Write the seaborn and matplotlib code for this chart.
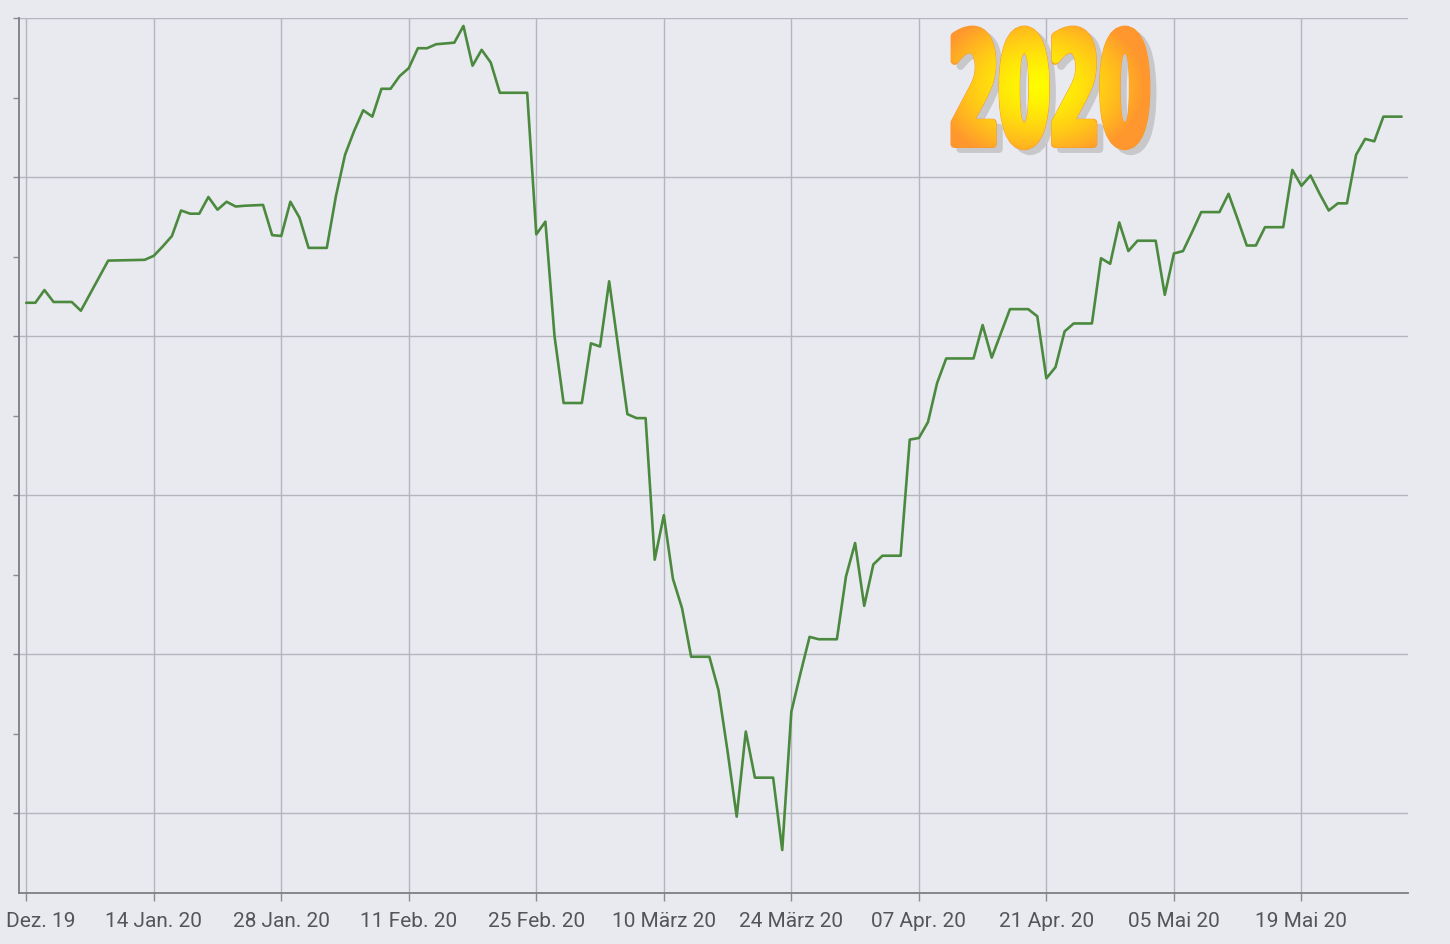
import numpy as np
import pandas as pd
import matplotlib
matplotlib.use('Agg')
import matplotlib.pyplot as plt
import seaborn as sns
from matplotlib import patheffects
from matplotlib.transforms import Affine2D, TransformedPath, ScaledTranslation

# values (index units: one unit = one y tick step)
dates = [
    '2019-12-31', '2020-01-01', '2020-01-02', '2020-01-03', '2020-01-05', '2020-01-06',
    '2020-01-09', '2020-01-13', '2020-01-14', '2020-01-15', '2020-01-16', '2020-01-17',
    '2020-01-18', '2020-01-19', '2020-01-20', '2020-01-21', '2020-01-22', '2020-01-23',
    '2020-01-24', '2020-01-26', '2020-01-27', '2020-01-28', '2020-01-29', '2020-01-30',
    '2020-01-31', '2020-02-02', '2020-02-03', '2020-02-04', '2020-02-05', '2020-02-06',
    '2020-02-07', '2020-02-08', '2020-02-09', '2020-02-10', '2020-02-11', '2020-02-12',
    '2020-02-13', '2020-02-14', '2020-02-16', '2020-02-17', '2020-02-18', '2020-02-19',
    '2020-02-20', '2020-02-21', '2020-02-24', '2020-02-25', '2020-02-26', '2020-02-27',
    '2020-02-28', '2020-03-01', '2020-03-02', '2020-03-03', '2020-03-04', '2020-03-06',
    '2020-03-07', '2020-03-08', '2020-03-09', '2020-03-10', '2020-03-11', '2020-03-12',
    '2020-03-13', '2020-03-15', '2020-03-16', '2020-03-17', '2020-03-18', '2020-03-19',
    '2020-03-20', '2020-03-22', '2020-03-23', '2020-03-24', '2020-03-25', '2020-03-26',
    '2020-03-27', '2020-03-29', '2020-03-30', '2020-03-31', '2020-04-01', '2020-04-02',
    '2020-04-03', '2020-04-05', '2020-04-06', '2020-04-07', '2020-04-08', '2020-04-09',
    '2020-04-10', '2020-04-13', '2020-04-14', '2020-04-15', '2020-04-17', '2020-04-19',
    '2020-04-20', '2020-04-21', '2020-04-22', '2020-04-23', '2020-04-24', '2020-04-26',
    '2020-04-27', '2020-04-28', '2020-04-29', '2020-04-30', '2020-05-01', '2020-05-03',
    '2020-05-04', '2020-05-05', '2020-05-06', '2020-05-07', '2020-05-08', '2020-05-10',
    '2020-05-11', '2020-05-12', '2020-05-13', '2020-05-14', '2020-05-15', '2020-05-17',
    '2020-05-18', '2020-05-19', '2020-05-20', '2020-05-21', '2020-05-22', '2020-05-23',
    '2020-05-24', '2020-05-25', '2020-05-26', '2020-05-27', '2020-05-28', '2020-05-30',
]
values = [
    7.42, 7.42, 7.58, 7.43, 7.43, 7.32,
    7.95, 7.96, 8.01, 8.13, 8.26, 8.58,
    8.54, 8.54, 8.75, 8.59, 8.69, 8.63,
    8.64, 8.65, 8.27, 8.26, 8.69, 8.49,
    8.11, 8.11, 8.76, 9.28, 9.58, 9.84,
    9.76, 10.11, 10.11, 10.27, 10.37, 10.62,
    10.62, 10.67, 10.69, 10.90, 10.40, 10.60,
    10.44, 10.06, 10.06, 8.28, 8.44, 7.00,
    6.16, 6.16, 6.91, 6.87, 7.69, 6.02,
    5.97, 5.97, 4.19, 4.75, 3.95, 3.58,
    2.97, 2.97, 2.55, 1.78, 0.96, 2.03,
    1.45, 1.45, 0.54, 2.28, 2.76, 3.22,
    3.19, 3.19, 3.98, 4.40, 3.61, 4.13,
    4.24, 4.24, 5.70, 5.72, 5.92, 6.41,
    6.72, 6.72, 7.14, 6.73, 7.34, 7.34,
    7.25, 6.47, 6.61, 7.06, 7.16, 7.16,
    7.98, 7.91, 8.43, 8.07, 8.20, 8.20,
    7.52, 8.04, 8.07, 8.31, 8.56, 8.56,
    8.79, 8.47, 8.14, 8.14, 8.37, 8.37,
    9.09, 8.89, 9.02, 8.79, 8.58, 8.67,
    8.67, 9.28, 9.48, 9.45, 9.76, 9.76,
]

tick_dates = ['2019-12-31', '2020-01-14', '2020-01-28', '2020-02-11', '2020-02-25',
              '2020-03-10', '2020-03-24', '2020-04-07', '2020-04-21', '2020-05-05',
              '2020-05-19']
tick_labels = ['Dez. 19', '14 Jan. 20', '28 Jan. 20', '11 Feb. 20', '25 Feb. 20',
               '10 März 20', '24 März 20', '07 Apr. 20', '21 Apr. 20', '05 Mai 20',
               '19 Mai 20']
y_major = [1, 3, 5, 7, 9, 11]
y_minor = [2, 4, 6, 8, 10]

BG = '#e9eaf0'
GRID = '#b4b5bd'
LINE = '#4b8a3e'


class GradientText(patheffects.AbstractPathEffect):
    """Squeezes the glyphs horizontally, fattens them, adds a drop shadow
    and a radial yellow/orange fill."""

    def __init__(self, width_px, shadow=(6, -5), grow=4.0):
        super().__init__()
        self.width_px = width_px
        self.shadow = shadow
        self.grow = grow

    def draw_path(self, renderer, gc, tpath, affine, rgbFace=None):
        ext = tpath.transformed(affine).get_extents()
        cx, cy = (ext.x0 + ext.x1) / 2, (ext.y0 + ext.y1) / 2
        sx = self.width_px / ext.width
        squeeze = affine + Affine2D().translate(-cx, -cy).scale(sx, 1).translate(cx, cy)
        lw_pt = 2 * self.grow * 72 / renderer.dpi

        gs = renderer.new_gc()
        gs.copy_properties(gc)
        gs.set_foreground('#c8c8cb')
        gs.set_linewidth(lw_pt)
        gs.set_joinstyle('round')
        renderer.draw_path(gs, tpath, squeeze + Affine2D().translate(*self.shadow),
                           (0.78, 0.78, 0.80))
        gs.restore()

        go = renderer.new_gc()
        go.copy_properties(gc)
        go.set_foreground('#fa982f')
        go.set_linewidth(lw_pt)
        go.set_joinstyle('round')
        renderer.draw_path(go, tpath, squeeze, (0.98, 0.6, 0.19))
        go.restore()

        # radial gradient, painted through copies of the glyphs nudged
        # around a small disc so the filled shape is fattened
        pext = tpath.transformed(squeeze).get_extents()
        g = int(np.ceil(self.grow)) + 1
        x0, y0 = int(np.floor(pext.x0)) - g, int(np.floor(pext.y0)) - g
        w, h = int(np.ceil(pext.x1)) + g - x0, int(np.ceil(pext.y1)) + g - y0
        yy, xx = np.mgrid[0:h, 0:w]
        u = (xx + 0.5) / w
        v = (yy + 0.5) / h
        r = np.sqrt(((u - 0.44) / 0.62) ** 2 + ((v - 0.52) / 0.72) ** 2)
        t = np.clip(r / 0.85, 0, 1) ** 1.5
        yellow = np.array([255, 252, 0])
        orange = np.array([255, 150, 46])
        rgb = yellow[None, None, :] * (1 - t[..., None]) + orange[None, None, :] * t[..., None]
        img = np.dstack([rgb, np.full((h, w), 255)]).astype(np.uint8)

        nudges = [(0.0, 0.0)]
        for rad, n in [(self.grow * 0.5, 8), (self.grow * 0.85, 16)]:
            for a in np.linspace(0, 2 * np.pi, n, endpoint=False):
                nudges.append((rad * np.cos(a), rad * np.sin(a)))
        for dx, dy in nudges:
            gi = renderer.new_gc()
            gi.copy_properties(gc)
            gi.set_clip_path(TransformedPath(tpath, squeeze + Affine2D().translate(dx, dy)))
            renderer.draw_image(gi, x0, y0, img)
            gi.restore()


sns.set_theme(style='ticks', rc={'axes.facecolor': BG, 'figure.facecolor': BG})
plt.rcParams['font.family'] = ['Roboto', 'DejaVu Sans']

df = pd.DataFrame({'date': pd.to_datetime(dates), 'value': values})

fig = plt.figure(figsize=(14.5, 9.44), dpi=100)
ax = fig.add_axes([19 / 1450, 51 / 944, 1389 / 1450, 875 / 944])

sns.lineplot(data=df, x='date', y='value', ax=ax, color=LINE, linewidth=1.9)

t0 = pd.Timestamp(tick_dates[0])
ax.set_xlim(t0 - pd.Timedelta(hours=19), t0 + pd.Timedelta(days=151.7))
ax.set_ylim(0, 11)
ax.set_xticks(pd.to_datetime(tick_dates))
ax.set_xticklabels(tick_labels)
ax.set_yticks(y_major)
ax.set_yticks(y_minor, minor=True)
ax.set_yticklabels([])
ax.set_xlabel('')
ax.set_ylabel('')
ax.set_axisbelow(True)
ax.grid(axis='x', color=GRID, linewidth=1)
ax.grid(axis='y', which='major', color=GRID, linewidth=1)

for side in ['top', 'right']:
    ax.spines[side].set_visible(False)
for side in ['left', 'bottom']:
    ax.spines[side].set_color('#7d7d82')
    ax.spines[side].set_linewidth(1.3)

ax.tick_params(axis='x', length=6, width=1, color='#8a8a90', labelsize=15,
               labelcolor='#555559', pad=8)
ax.tick_params(axis='y', which='both', length=4.5, width=1, color='#8a8a90',
               labelleft=False)

first = ax.get_xticklabels()[0]
first.set_transform(first.get_transform() + ScaledTranslation(0.15, 0, fig.dpi_scale_trans))

fig.text(1048 / 1450, (944 - 144) / 944, '2020', fontsize=111, fontweight='bold',
         family=['Liberation Sans Narrow', 'DejaVu Sans'], ha='center', va='baseline',
         color='#ff9a30', path_effects=[GradientText(192)])

fig.savefig('out.png', dpi=100, facecolor=BG)
